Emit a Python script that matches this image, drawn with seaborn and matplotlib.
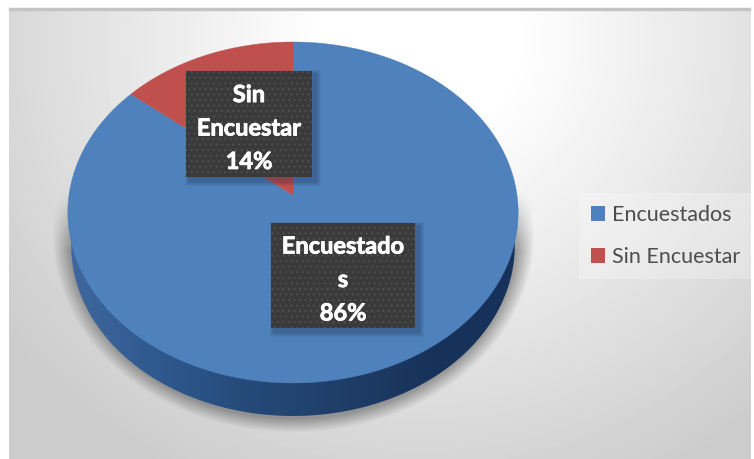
import numpy as np
import seaborn as sns
import matplotlib
matplotlib.use('Agg')
import matplotlib.pyplot as plt
import matplotlib.patheffects as pe
from matplotlib.colors import LinearSegmentedColormap
from matplotlib.patches import Patch, Rectangle, PathPatch
from matplotlib.path import Path

# datos
categorias = ['Encuestados', 'Sin Encuestar']
valores = [86, 14]
etiquetas = ['Encuestado\ns', 'Sin\nEncuestar']

sns.set_theme(style='white')
plt.rcParams['font.family'] = ['Lato', 'DejaVu Sans']
plt.rcParams['hatch.linewidth'] = 0.5
colores = sns.color_palette(['#4f81bd', '#c0504d'])

fig = plt.figure(figsize=(7.54, 4.59), dpi=100, facecolor='white')
ax = fig.add_axes([0, 0, 1, 1])

# pie normal, despues se pasa a perspectiva
wedges, _ = ax.pie(valores, colors=colores, startangle=90, counterclock=False, radius=1)


def proyectar(uv):
    # circulo unidad -> elipse con perspectiva en pixeles
    u, v = uv[:, 0], uv[:, 1]
    den = 0.1026 * v + 1
    return np.column_stack([293 + 224 * u / den, (195 - 148.7 * v) / den])


# fondo con gradiente
X, Y = np.meshgrid(np.arange(9, 751), np.arange(9, 459))
dist = np.hypot((X - 420) / 1.05, Y - 40)
gris = np.clip(1.0 - 0.2 * np.clip((dist - 90) / 400, 0, 1), 0, 1)
ax.imshow(gris, extent=(9, 751, 459, 9), cmap='gray', vmin=0, vmax=1, aspect='auto', zorder=0)
ax.add_patch(Rectangle((9, 8), 741, 1.5, color='#c4c4c4', zorder=1))

# sombra bajo la torta
d = np.hypot((X - 293) / 241, (Y - 235) / 197)
sombra = 0.5 * np.clip((1 - d) / 0.07, 0, 1) * np.clip((Y - 190) / 60, 0, 1)
rgba = np.zeros(X.shape + (4,))
rgba[..., :3] = 0.3
rgba[..., 3] = sombra
ax.imshow(rgba, extent=(9, 751, 459, 9), aspect='auto', zorder=1)

# borde lateral
t = np.linspace(0, 2 * np.pi, 400)
borde = proyectar(np.column_stack([np.cos(t), np.sin(t)]))
borde[:, 0] = 293 + (borde[:, 0] - 293) * 0.985
borde[:, 1] = borde[:, 1] + 33
cm_borde = LinearSegmentedColormap.from_list(
    'borde', ['#41699f', '#2f5a8f', '#254a79', '#1f3e68', '#17325a', '#17325a'])
img = ax.imshow(np.linspace(0, 1, 300).reshape(1, -1), extent=(60, 530, 430, 200),
                cmap=cm_borde, aspect='auto', zorder=2)
img.set_clip_path(PathPatch(Path(borde), transform=ax.transData))

# rebanadas en perspectiva
for w, c in zip(wedges, colores):
    ang = np.radians(np.linspace(w.theta1, w.theta2, 200))
    uv = np.column_stack([np.cos(ang), np.sin(ang)])
    uv = np.vstack([uv, [[0, 0]]])
    w.set_visible(False)
    ax.fill(*proyectar(uv).T, facecolor=c, edgecolor=c, lw=0.3, zorder=3)

# etiquetas
cajas = [(271, 223, 144, 105), (186, 71, 126, 106)]
for caja, et, val in zip(cajas, etiquetas, valores):
    x, y, an, al = caja
    for k in range(1, 6):
        ax.add_patch(Rectangle((x + 4 - k, y + 4 - k), an + 2 * k, al + 2 * k,
                               color='#1a2a40', alpha=0.07, lw=0, zorder=4))
    ax.add_patch(Rectangle((x, y), an, al, facecolor='#3a3a3a', edgecolor='#565656',
                           hatch='...', lw=0, zorder=5))
    ax.text(x + an / 2, y + al / 2 + 4, f'{et}\n{val}%', color='white', fontsize=17, fontweight='bold',
            ha='center', va='center', linespacing=1.55, zorder=6,
            path_effects=[pe.withStroke(linewidth=0.6, foreground='white')])

# leyenda
handles = [Patch(facecolor=c, edgecolor='none') for c in colores]
leg = ax.legend(handles, categorias, loc='center left', bbox_to_anchor=(579, 236),
                bbox_transform=ax.transData, fontsize=15.5, labelcolor='#4d4d4d', frameon=True,
                facecolor='white', framealpha=0.25, edgecolor='none', fancybox=False,
                handlelength=0.68, handleheight=0.68, handletextpad=0.28, labelspacing=1.05,
                borderpad=0.55, borderaxespad=0)
leg.set_zorder(7)

ax.set_aspect('auto')
ax.set_xlim(0, 754)
ax.set_ylim(459, 0)
ax.axis('off')

fig.savefig('out.png', dpi=100)
